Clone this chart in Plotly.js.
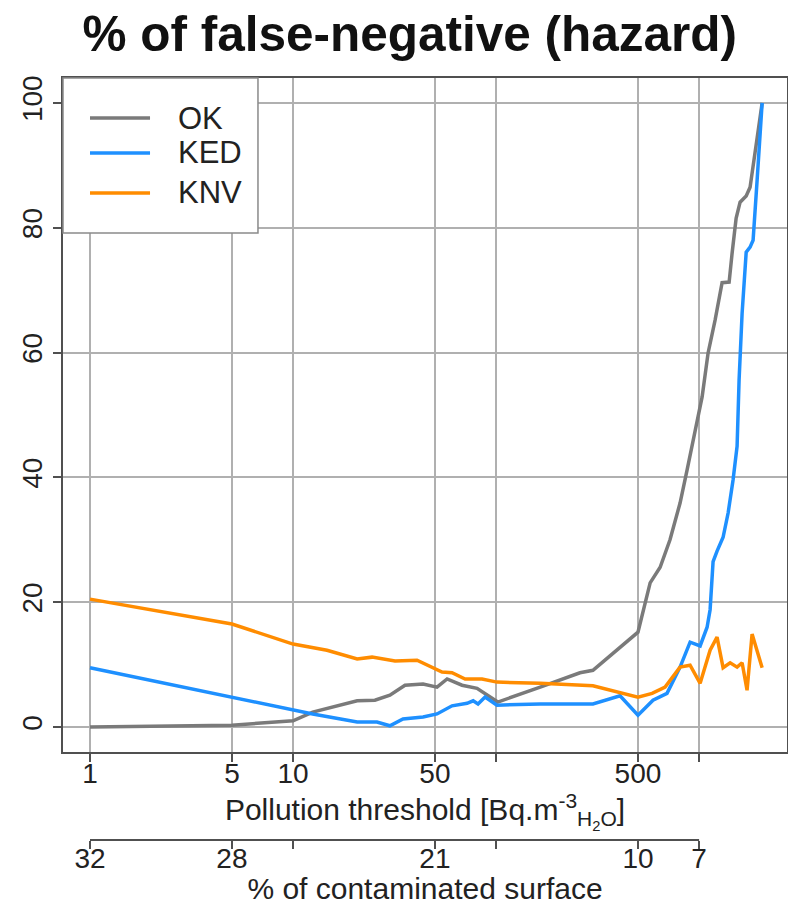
<!DOCTYPE html>
<html>
<head>
<meta charset="utf-8">
<script src="https://cdn.plot.ly/plotly-3.0.1.min.js"></script>
<style>html,body{margin:0;padding:0;background:#fff;}#chart{width:788px;height:905px;}</style>
</head>
<body>
<div id="chart"></div>
<script>
// ---- data ----
const seriesNames = ['OK', 'KED', 'KNV'];
const seriesColors = ['#7a7a7a', '#1e90ff', '#ff8c00'];

const okX = [1, 5, 10, 12.5, 20.7, 25.3, 30, 35.6, 43.7, 51.2, 57.4, 68, 80.6, 90.3, 102, 165, 259, 300, 500, 574, 643, 719, 806, 873, 955, 1035, 1107, 1199, 1298, 1406, 1455, 1522, 1592, 1706, 1783, 1845, 1932, 2044];
const okY = [0, 0.3, 1.0, 2.4, 4.2, 4.3, 5.1, 6.7, 6.9, 6.4, 7.7, 6.7, 6.2, 5.1, 4.0, 6.4, 8.7, 9.1, 15.2, 23.1, 25.6, 30.0, 35.9, 41.2, 47.6, 52.9, 59.9, 65.2, 71.2, 71.3, 76.0, 81.5, 84.1, 85.1, 86.5, 90.0, 94.6, 100];

const kedX = [1, 5, 10, 12.5, 20.7, 25.9, 30, 34.8, 43.7, 51.2, 60.7, 72, 77.1, 81.5, 88.3, 101, 165, 300, 408, 500, 593, 695, 806, 903, 1012, 1095, 1133, 1172, 1226, 1313, 1390, 1470, 1539, 1574, 1629, 1706, 1783, 1845, 1932, 2044];
const kedY = [9.5, 4.8, 2.7, 2.1, 0.8, 0.8, 0.2, 1.3, 1.6, 2.1, 3.4, 3.8, 4.2, 3.7, 4.8, 3.5, 3.7, 3.7, 5.0, 1.9, 4.3, 5.4, 9.6, 13.6, 13.0, 16.0, 18.8, 26.5, 28.2, 30.4, 34.3, 39.6, 45.0, 55.6, 66.3, 76.1, 76.9, 78.0, 87.7, 100];

const knvX = [1, 5, 10, 14.7, 20.7, 24.5, 31.8, 40.8, 54.2, 60.7, 70.4, 85.3, 101, 165, 300, 408, 500, 587, 680, 806, 903, 1012, 1133, 1226, 1313, 1422, 1539, 1629, 1723, 1824, 2044];
const knvY = [20.5, 16.5, 13.3, 12.3, 10.9, 11.2, 10.6, 10.7, 8.8, 8.7, 7.7, 7.7, 7.2, 7.0, 6.6, 5.6, 4.8, 5.4, 6.4, 9.6, 9.9, 7.0, 12.3, 14.4, 9.5, 10.3, 9.6, 10.3, 5.9, 14.9, 9.5];

const xTickVals = [1, 5, 10, 50, 100, 500, 1000];
const xTickText = ['1', '5', '10', '50', '', '500', ''];
const surfTickText = ['32', '28', '', '21', '', '10', '7'];
const yTickVals = [0, 20, 40, 60, 80, 100];

const titleText = '% of false-negative (hazard)';
const xTitle = 'Pollution threshold [Bq.m<sup>-3</sup><sub>H<sub>2</sub>O</sub>]';
const x2Title = '% of contaminated surface';

// ---- chart ----
const FONT = 'Liberation Sans, Arial, Helvetica, sans-serif';
const frameColor = '#505050';
const gridColor = '#b0b0b0';
const xs = [okX, kedX, knvX];
const ys = [okY, kedY, knvY];

const traces = seriesNames.map((n, i) => ({
  type: 'scatter', mode: 'lines', name: n,
  x: xs[i], y: ys[i],
  line: {color: seriesColors[i], width: 3.5},
  showlegend: false, hoverinfo: 'x+y+name'
}));
// helper so the secondary (surface) axis subplot exists
traces.push({type: 'scatter', mode: 'lines', x: xTickVals, y: xTickVals.map(() => null),
  xaxis: 'x2', yaxis: 'y2', showlegend: false, hoverinfo: 'skip'});

const xRange = [-0.133, 3.433];
const yDomBottom = (840 - 752) / 762;

// custom legend (box + line keys + labels), in paper coords
const legBox = {x0: 0, x1: 0.2693, y0: 0.7966, y1: 1};
const legRows = [0.9475, 0.9016, 0.8491];
const shapes = [
  {type: 'rect', xref: 'paper', yref: 'paper', x0: legBox.x0, x1: legBox.x1, y0: legBox.y0, y1: legBox.y1,
   fillcolor: '#ffffff', line: {color: '#8a8a8a', width: 1.5}, layer: 'above'},
  {type: 'line', xref: 'x2', yref: 'paper', x0: xTickVals[0], x1: xTickVals[xTickVals.length - 1],
   y0: 0, y1: 0, line: {color: frameColor, width: 2}}
];
const annotations = [];
seriesNames.forEach((n, i) => {
  shapes.push({type: 'line', xref: 'paper', yref: 'paper', x0: 0.0373, x1: 0.1202, y0: legRows[i], y1: legRows[i],
    line: {color: seriesColors[i], width: 3.5}, layer: 'above'});
  annotations.push({xref: 'paper', yref: 'paper', x: 0.156, y: legRows[i], xanchor: 'left', yanchor: 'middle',
    text: n, showarrow: false, font: {size: 31, family: FONT, color: '#222'}});
});

const layout = {
  width: 788, height: 905,
  margin: {l: 63, r: 1, t: 78, b: 65},
  paper_bgcolor: '#ffffff', plot_bgcolor: '#ffffff',
  font: {family: FONT, size: 28, color: '#222222'},
  showlegend: false,
  title: {text: '<b>' + titleText + '</b>', font: {size: 49.5, family: FONT, color: '#111'},
          xref: 'container', x: 0.52, yref: 'container', y: 0.963, xanchor: 'center', yanchor: 'middle'},
  xaxis: {
    type: 'log', range: xRange, anchor: 'y',
    tickmode: 'array', tickvals: xTickVals, ticktext: xTickText,
    ticks: 'outside', ticklen: 8, tickwidth: 2, tickcolor: frameColor,
    tickfont: {size: 28}, ticklabelstandoff: -13,
    showgrid: true, gridcolor: gridColor, gridwidth: 2, zeroline: false,
    showline: true, mirror: true, linecolor: frameColor, linewidth: 2,
    title: {text: xTitle, font: {size: 30}, standoff: 1},
    automargin: false
  },
  xaxis2: {
    type: 'log', range: xRange, anchor: 'y2', domain: [0, 1], side: 'bottom',
    tickmode: 'array', tickvals: xTickVals, ticktext: surfTickText,
    ticks: 'outside', ticklen: 8, tickwidth: 2, tickcolor: frameColor,
    tickfont: {size: 28}, ticklabelstandoff: -15,
    showgrid: false, zeroline: false, showline: false,
    title: {text: x2Title, font: {size: 30}, standoff: 5},
    automargin: false
  },
  yaxis: {
    domain: [yDomBottom, 1], range: [-4, 104],
    tickmode: 'array', tickvals: yTickVals, tickangle: -90,
    ticks: 'outside', ticklen: 8, tickwidth: 2, tickcolor: frameColor,
    tickfont: {size: 28},
    showgrid: true, gridcolor: gridColor, gridwidth: 2, zeroline: false,
    showline: true, mirror: true, linecolor: frameColor, linewidth: 2,
    automargin: false
  },
  yaxis2: {
    domain: [0, 0.005], range: [0, 1], visible: false, fixedrange: true
  },
  shapes: shapes,
  annotations: annotations
};

Plotly.newPlot('chart', traces, layout, {displayModeBar: false, staticPlot: true});
</script>
</body>
</html>
